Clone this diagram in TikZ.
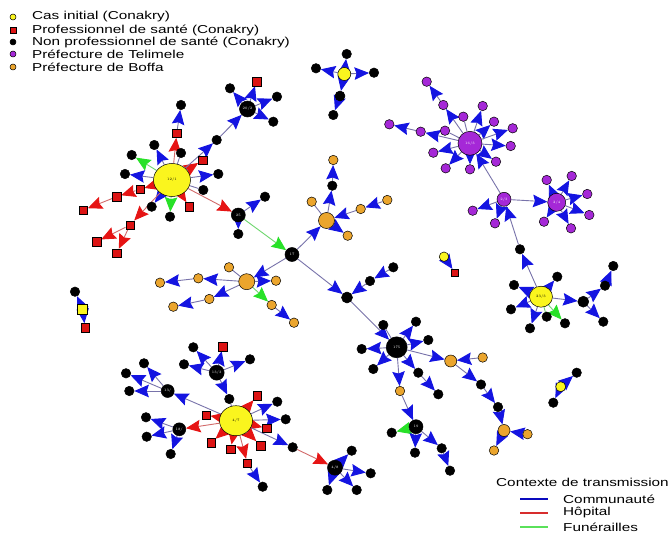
\documentclass[tikz,border=0pt]{standalone}
\usepackage{fontspec}
\setsansfont{Liberation Sans}
\usetikzlibrary{arrows.meta,shapes.geometric}
\pgfdeclarelayer{bg}
\pgfsetlayers{bg,main}
\definecolor{lineb}{RGB}{120,115,170}
\definecolor{liner}{RGB}{210,105,105}
\definecolor{lineg}{RGB}{110,215,110}
\definecolor{tipb}{RGB}{20,20,225}
\definecolor{tipr}{RGB}{230,20,20}
\definecolor{tipg}{RGB}{40,225,40}
\definecolor{pur}{RGB}{165,40,215}
\definecolor{org}{RGB}{235,165,45}
\definecolor{yel}{RGB}{250,245,30}
\definecolor{sqred}{RGB}{220,20,20}
\definecolor{legb}{RGB}{10,10,190}
\definecolor{legr}{RGB}{215,45,45}
\definecolor{legg}{RGB}{90,225,90}
\newcommand{\legtxt}[1]{\scalebox{1.33}[1]{#1}}
\newenvironment{edgelayer}{\begin{pgfonlayer}{bg}}{\end{pgfonlayer}}
\tikzset{
  nd/.style={circle, draw=black, line width=0.5pt, inner sep=0pt, minimum size=9.5pt},
  kdot/.style={nd, fill=black},
  pdot/.style={nd, fill=pur},
  odot/.style={nd, fill=org},
  ydot/.style={nd, fill=yel},
  rsq/.style={rectangle, draw=black, line width=0.5pt, fill=sqred, inner sep=0pt, minimum size=8.5pt},
  yell/.style={ellipse, draw=black, line width=0.5pt, fill=yel, inner sep=0pt},
  lab/.style={font=\fontsize{3.5}{4}\selectfont, text=white},
  labk/.style={font=\fontsize{3.5}{4}\selectfont, text=black},
  eblue/.style={draw=lineb, line width=0.9pt, -{Stealth[length=14.5pt,width=12.5pt,inset=2pt,color=tipb]}},
  ered/.style={draw=liner, line width=0.9pt, -{Stealth[length=14.5pt,width=12.5pt,inset=2pt,color=tipr]}},
  egreen/.style={draw=lineg, line width=0.9pt, -{Stealth[length=14.5pt,width=12.5pt,inset=2pt,color=tipg]}},
  eplain/.style={draw=lineb, line width=0.9pt},
  legtext/.style={anchor=west, inner sep=0pt, font=\sffamily\fontsize{11.5}{13}\selectfont},
  legline/.style={line width=1.6pt},
}
\begin{document}
\begin{tikzpicture}[x=1pt,y=-1pt]
\useasboundingbox (0,0) rectangle (670,535);
\begin{edgelayer}
\fill[white] (0,0) rectangle (670,535);
\end{edgelayer}

% ---------- top-left legend
\node[ydot, minimum size=6pt] (lm1) at (13,17) {};
\node[rsq, minimum size=6pt] (lm2) at (13,30) {};
\node[kdot, minimum size=6pt] (lm3) at (13,42) {};
\node[pdot, minimum size=6pt] (lm4) at (13,54) {};
\node[odot, minimum size=6pt] (lm5) at (13,67) {};
\node[legtext] (lt1) at (32,17) {\legtxt{Cas initial (Conakry)}};
\node[legtext] (lt2) at (32,30) {\legtxt{Professionnel de santé (Conakry)}};
\node[legtext] (lt3) at (32,42) {\legtxt{Non professionnel de santé (Conakry)}};
\node[legtext] (lt4) at (32,54) {\legtxt{Préfecture de Telimele}};
\node[legtext] (lt5) at (32,67) {\legtxt{Préfecture de Boffa}};

% ---------- bottom-right legend
\node[legtext] (lc0) at (496,482) {\legtxt{Contexte de transmission}};
\coordinate (lb1a) at (520,499); \coordinate (lb1b) at (548,499);
\coordinate (lb2a) at (520,513); \coordinate (lb2b) at (548,513);
\coordinate (lb3a) at (520,527); \coordinate (lb3b) at (548,527);
\draw[legline, legb] (lb1a) -- (lb1b);
\draw[legline, legr] (lb2a) -- (lb2b);
\draw[legline, legg] (lb3a) -- (lb3b);
\node[legtext] (lc1) at (563,499) {\legtxt{Communauté}};
\node[legtext] (lc2) at (563,513) {\legtxt{Hôpital}};
\node[legtext] (lc3) at (563,527) {\legtxt{Funérailles}};

% ---------- cluster 12/1
\node[yell, minimum width=37pt, minimum height=33pt] (A) at (172,180) {};
\node[labk] (Alab) at (A) {12/1};
\node[rsq] (a1) at (176.7,133.3) {};
\node[kdot] (a2) at (181,105) {};
\node[kdot] (a3) at (154.3,145) {};
\node[kdot] (a4) at (131.7,155) {};
\node[kdot] (a5) at (181,153) {};
\node[rsq] (a6) at (202.7,160) {};
\node[kdot] (a7) at (216.7,140) {};
\node[kdot] (a8) at (218.3,174) {};
\node[kdot] (a9) at (203.3,190) {};
\node[rsq] (a10) at (189.3,206.7) {};
\node[kdot] (a11) at (170,216.7) {};
\node[kdot] (a12) at (151.7,206.7) {};
\node[kdot] (a13) at (125,174) {};
\node[rsq] (a14) at (140,189.3) {};
\node[rsq] (a15) at (116.7,196.7) {};
\node[rsq] (a16) at (83.3,210) {};
\node[rsq] (a17) at (130,225) {};
\node[rsq] (a18) at (96.7,241.7) {};
\node[rsq] (a19) at (116.7,253.3) {};
\node[kdot, minimum size=16pt] (B) at (247.5,109) {};
\node[lab] (Blab) at (B) {20/2};
\node[rsq] (b1) at (256.5,81.7) {};
\node[kdot] (b2) at (230,88.3) {};
\node[kdot] (b3) at (277,96.7) {};
\node[kdot] (b4) at (273.3,121.7) {};

\begin{edgelayer}
\draw[ered] (A) -- (a1);
\draw[eblue] (a1) -- (a2);
\draw[eblue] (A) -- (a3);
\draw[egreen] (A) -- (a4);
\draw[eplain] (A) -- (a5);
\draw[ered] (A) -- (a6);
\draw[eblue] (A) -- (a7);
\draw[eblue] (a7) -- (B);
\draw[eblue] (B) -- (b1);
\draw[eblue] (B) -- (b2);
\draw[eblue] (B) -- (b3);
\draw[eblue] (B) -- (b4);
\draw[eblue] (A) -- (a8);
\draw[eplain] (A) -- (a9);
\draw[ered] (A) -- (a10);
\draw[egreen] (A) -- (a11);
\draw[eblue] (A) -- (a12);
\draw[eblue] (A) -- (a13);
\draw[ered] (A) -- (a14);
\draw[ered] (a14) -- (a15);
\draw[ered] (a15) -- (a16);
\draw[ered] (A) -- (a17);
\draw[ered] (a17) -- (a18);
\draw[ered] (a17) -- (a19);
\end{edgelayer}

% ---------- 25 and 17
\node[kdot, minimum size=14pt] (C) at (238.3,215) {};
\node[lab] (Clab) at (C) {25};
\node[kdot] (c1) at (265,196.7) {};
\node[kdot] (c2) at (238.3,234) {};
\node[kdot, minimum size=14pt] (D) at (292,254.5) {};
\node[lab] (Dlab) at (D) {17};
\begin{edgelayer}
\draw[ered] (A) -- (C);
\draw[eblue] (C) -- (c1);
\draw[eblue] (C) -- (c2);
\draw[egreen] (C) -- (D);
\end{edgelayer}

% ---------- Boffa (upper)
\node[odot, minimum size=16pt] (E) at (326.5,220.5) {};
\node[kdot] (e1) at (332.3,185.7) {};
\node[odot] (e2) at (333.3,160) {};
\node[odot] (e3) at (311.7,201.7) {};
\node[odot] (e4) at (360.7,209) {};
\node[odot] (e5) at (387.3,200) {};
\node[odot] (e6) at (347.7,235.7) {};
\begin{edgelayer}
\draw[eblue] (D) -- (E);
\draw[eblue] (E) -- (e1);
\draw[eblue] (e1) -- (e2);
\draw[eplain] (E) -- (e3);
\draw[eblue] (e4) -- (E);
\draw[eblue] (e5) -- (e4);
\draw[eblue] (E) -- (e6);
\end{edgelayer}

% ---------- Boffa (left)
\node[odot, minimum size=16pt] (F) at (246.7,281.7) {};
\node[odot] (f1) at (229,267.3) {};
\node[odot] (f2) at (276,280.7) {};
\node[odot] (f3) at (198.3,278.3) {};
\node[odot] (f4) at (160,282.7) {};
\node[odot] (f5) at (209.3,299) {};
\node[odot] (f6) at (173.3,306.7) {};
\node[odot] (f7) at (271.7,305) {};
\node[odot] (f8) at (294,322.7) {};
\begin{edgelayer}
\draw[eblue] (D) -- (F);
\draw[eplain] (F) -- (f1);
\draw[eblue] (F) -- (f2);
\draw[eblue] (F) -- (f3);
\draw[eblue] (f3) -- (f4);
\draw[eblue] (F) -- (f5);
\draw[eblue] (f5) -- (f6);
\draw[egreen] (F) -- (f7);
\draw[eblue] (f7) -- (f8);
\end{edgelayer}

% ---------- 175 branch
\node[kdot, minimum size=11pt] (G) at (347,297.5) {};
\node[kdot] (g1) at (370,281) {};
\node[kdot] (g2) at (393.3,267.3) {};
\node[kdot, minimum size=21pt] (H) at (396.7,347.3) {};
\node[lab] (Hlab) at (H) {175};
\node[kdot] (h1) at (383.3,325) {};
\node[kdot] (h2) at (416,321.7) {};
\node[kdot] (h3) at (428.3,340) {};
\node[kdot] (h4) at (361.7,349) {};
\node[kdot] (h5) at (373.3,369) {};
\node[kdot] (h6) at (418.3,372.7) {};
\node[kdot] (h7) at (438.3,394.3) {};
\node[odot] (h8) at (400,391) {};
\node[kdot, minimum size=14pt] (I) at (416,426.7) {};
\node[lab] (Ilab) at (I) {19};
\node[kdot] (i1) at (391.7,432.7) {};
\node[kdot] (i2) at (415,452.7) {};
\node[kdot] (i3) at (441.7,448.3) {};
\node[kdot] (i4) at (450,470.7) {};
\begin{edgelayer}
\draw[eblue] (D) -- (G);
\draw[eblue] (g1) -- (G);
\draw[eblue] (g2) -- (g1);
\draw[eblue] (G) -- (H);
\draw[eplain] (H) -- (h1);
\draw[eblue] (H) -- (h2);
\draw[eblue] (H) -- (h3);
\draw[eblue] (H) -- (h4);
\draw[eblue] (H) -- (h5);
\draw[eblue] (H) -- (h6);
\draw[eblue] (h6) -- (h7);
\draw[eblue] (H) -- (h8);
\draw[eblue] (h8) -- (I);
\draw[egreen] (I) -- (i1);
\draw[eblue] (I) -- (i2);
\draw[eblue] (I) -- (i3);
\draw[eblue] (i3) -- (i4);
\end{edgelayer}

\node[odot, minimum size=12pt] (J) at (450.7,361) {};
\node[odot] (j1) at (482.7,357.5) {};
\node[kdot] (j2) at (481,384.5) {};
\node[kdot] (j3) at (498,407) {};
\node[odot, minimum size=12pt] (K) at (504,430.5) {};
\node[odot] (k1) at (527.5,434.2) {};
\node[odot] (k2) at (494,450.5) {};
\begin{edgelayer}
\draw[eblue] (H) -- (J);
\draw[eblue] (j1) -- (J);
\draw[eblue] (J) -- (j2);
\draw[eblue] (j2) -- (j3);
\draw[eblue] (j3) -- (K);
\draw[eblue] (k1) -- (K);
\draw[eblue] (K) -- (k2);
\end{edgelayer}

\node[ydot, minimum size=10pt] (L) at (560.7,386.7) {};
\node[kdot] (l1) at (576.7,372.7) {};
\node[kdot] (l2) at (553.3,402.7) {};
\begin{edgelayer}
\draw[eblue] (L) -- (l1);
\draw[eblue] (L) -- (l2);
\end{edgelayer}

% ---------- Telimele
\node[pdot, minimum size=24pt] (M) at (470,143.3) {};
\node[lab] (Mlab) at (M) {16/3};
\node[pdot] (m1) at (443.3,105) {};
\node[pdot] (m2) at (426.7,81.7) {};
\node[pdot] (m3) at (463.3,116.7) {};
\node[pdot] (m4) at (482.7,106) {};
\node[pdot] (m5) at (494,121.7) {};
\node[pdot] (m6) at (512.7,128.3) {};
\node[pdot] (m7) at (510.7,146) {};
\node[pdot] (m8) at (496,161.7) {};
\node[pdot] (m9) at (470,169.3) {};
\node[pdot] (m10) at (445.7,168.3) {};
\node[pdot] (m11) at (433.3,152.7) {};
\node[pdot] (m12) at (445,130.7) {};
\node[pdot] (m13) at (420.7,131.7) {};
\node[pdot] (m14) at (389.3,124.3) {};
\begin{edgelayer}
\draw[eblue] (M) -- (m1);
\draw[eblue] (m1) -- (m2);
\draw[eplain] (M) -- (m3);
\draw[eblue] (M) -- (m4);
\draw[eblue] (M) -- (m5);
\draw[eblue] (M) -- (m6);
\draw[eblue] (M) -- (m7);
\draw[eblue] (M) -- (m8);
\draw[eblue] (M) -- (m9);
\draw[eblue] (M) -- (m10);
\draw[eblue] (M) -- (m11);
\draw[eplain] (M) -- (m12);
\draw[eblue] (M) -- (m13);
\draw[eblue] (m13) -- (m14);
\end{edgelayer}

\node[pdot, minimum size=14pt] (N) at (504,199.3) {};
\node[lab] (Nlab) at (N) {2/3};
\node[pdot] (n1) at (472.7,210.7) {};
\node[pdot] (n2) at (495,223.3) {};
\node[pdot, minimum size=18pt] (O) at (556.7,202.3) {};
\node[lab] (Olab) at (O) {2/4};
\node[pdot] (o1) at (546.7,180) {};
\node[pdot] (o2) at (571.7,176) {};
\node[pdot] (o3) at (587.3,194) {};
\node[pdot] (o4) at (589.3,215) {};
\node[pdot] (o5) at (571,228.3) {};
\node[pdot] (o6) at (544,221.7) {};
\begin{edgelayer}
\draw[eblue] (N) -- (M);
\draw[eblue] (N) -- (n1);
\draw[eblue] (N) -- (n2);
\draw[eblue] (N) -- (O);
\draw[eblue] (O) -- (o1);
\draw[eblue] (O) -- (o2);
\draw[eblue] (O) -- (o3);
\draw[eblue] (O) -- (o4);
\draw[eblue] (O) -- (o5);
\draw[eblue] (O) -- (o6);
\end{edgelayer}

% ---------- 23/3
\node[kdot] (Q) at (520,249.3) {};
\node[yell, minimum width=23pt, minimum height=21pt] (P) at (541,296.7) {};
\node[labk] (Plab) at (P) {23/3};
\node[kdot] (p1) at (514,285) {};
\node[kdot] (p2) at (557.3,276.7) {};
\node[kdot] (p3) at (511,309.3) {};
\node[kdot] (p4) at (530,328.3) {};
\node[kdot] (p5) at (546.7,316.7) {};
\node[kdot] (p6) at (565,323.3) {};
\node[kdot, minimum size=11pt] (p7) at (583.3,301.7) {};
\node[kdot] (p8) at (605,285.7) {};
\node[kdot] (p9) at (613.3,266) {};
\node[kdot] (p10) at (603.3,321.7) {};
\begin{edgelayer}
\draw[eblue] (Q) -- (N);
\draw[eblue] (P) -- (Q);
\draw[eblue] (P) -- (p1);
\draw[eblue] (P) -- (p2);
\draw[eblue] (P) -- (p3);
\draw[eblue] (P) -- (p4);
\draw[draw=lineg, line width=0.9pt] (P) -- (p5);
\draw[egreen] (P) -- (p6);
\draw[eblue] (P) -- (p7);
\draw[eblue] (p7) -- (p8);
\draw[eblue] (p8) -- (p9);
\draw[eblue] (p7) -- (p10);
\end{edgelayer}

% ---------- top yellow star
\node[ydot, minimum size=13pt] (T) at (344.3,74) {};
\node[kdot] (t1) at (346.7,54) {};
\node[kdot] (t2) at (316,68.3) {};
\node[kdot] (t3) at (374,72.7) {};
\node[kdot, minimum size=10pt] (t4) at (340,96) {};
\node[kdot] (t5) at (333.3,115) {};
\begin{edgelayer}
\draw[eblue] (T) -- (t1);
\draw[eblue] (T) -- (t2);
\draw[eblue] (T) -- (t3);
\draw[eblue] (T) -- (t4);
\draw[eblue] (t4) -- (t5);
\end{edgelayer}

% ---------- small pairs
\node[ydot] (U) at (444,256.7) {};
\node[rsq, minimum size=7pt] (u1) at (455,272.7) {};
\node[rectangle, draw=black, line width=0.5pt, fill=yel, inner sep=0pt, minimum size=10pt] (V) at (82.7,309) {};
\node[kdot] (v1) at (75,291.7) {};
\node[rsq] (v2) at (85,327.7) {};
\begin{edgelayer}
\draw[eblue] (U) -- (u1);
\draw[eblue] (V) -- (v1);
\draw[eblue] (V) -- (v2);
\end{edgelayer}

% ---------- cluster 4/7
\node[yell, minimum width=33pt, minimum height=30pt] (W) at (236,420.7) {};
\node[labk] (Wlab) at (W) {4/7};
\node[rsq] (w1) at (257.3,395.7) {};
\node[kdot] (w2) at (277.3,401.7) {};
\node[kdot] (w3) at (285.7,419.3) {};
\node[rsq] (w4) at (266.7,428.3) {};
\node[rsq] (w5) at (260.7,445.7) {};
\node[rsq] (w6) at (247.3,463.3) {};
\node[kdot] (w7) at (262.7,486.7) {};
\node[rsq] (w8) at (230.7,449) {};
\node[rsq] (w9) at (211,442.7) {};
\node[rsq] (w10) at (206,415) {};
\node[kdot] (w11) at (229.3,399) {};
\node[kdot] (w12) at (292.7,447.3) {};
\begin{edgelayer}
\draw[ered] (W) -- (w1);
\draw[eblue] (W) -- (w2);
\draw[eblue] (W) -- (w3);
\draw[ered] (W) -- (w4);
\draw[ered] (W) -- (w5);
\draw[ered] (W) -- (w6);
\draw[eblue] (w6) -- (w7);
\draw[ered] (W) -- (w8);
\draw[ered] (W) -- (w9);
\draw[ered] (W) -- (w10);
\draw[eblue] (W) -- (w12);
\end{edgelayer}

\node[kdot, minimum size=15pt] (X) at (216.7,372.7) {};
\node[lab] (Xlab) at (X) {13/3};
\node[rsq] (x1) at (222.7,346.7) {};
\node[kdot] (x2) at (193.3,347.3) {};
\node[kdot] (x3) at (184,364.3) {};
\node[kdot] (x4) at (250,359.3) {};
\begin{edgelayer}
\draw[eblue] (X) -- (w11);
\draw[eplain] (w11) -- (W);
\draw[eblue] (X) -- (x1);
\draw[eblue] (X) -- (x2);
\draw[eblue] (X) -- (x3);
\draw[eblue] (X) -- (x4);
\end{edgelayer}

\node[kdot, minimum size=13pt] (Y) at (167.7,391) {};
\node[lab] (Ylab) at (Y) {13/};
\node[kdot] (y1) at (144,363.3) {};
\node[kdot] (y2) at (126,373.3) {};
\node[kdot] (y3) at (129.3,391) {};
\begin{edgelayer}
\draw[eblue] (W) -- (Y);
\draw[eblue] (Y) -- (y1);
\draw[eblue] (Y) -- (y2);
\draw[eblue] (Y) -- (y3);
\end{edgelayer}

\node[kdot, minimum size=13pt] (Z) at (179.3,429.3) {};
\node[lab] (Zlab) at (Z) {18/};
\node[kdot] (z1) at (146,417.3) {};
\node[kdot] (z2) at (146.7,436.7) {};
\node[kdot] (z3) at (170.7,454) {};
\begin{edgelayer}
\draw[ered] (W) -- (Z);
\draw[eblue] (Z) -- (z1);
\draw[eblue] (Z) -- (z2);
\draw[eblue] (Z) -- (z3);
\end{edgelayer}

\node[kdot, minimum size=15pt] (R) at (335,467.7) {};
\node[lab] (Rlab) at (R) {4/8};
\node[kdot] (r1) at (351.7,450.7) {};
\node[kdot] (r2) at (370.7,473.3) {};
\node[kdot] (r3) at (356.7,490) {};
\node[kdot] (r4) at (327.3,490) {};
\begin{edgelayer}
\draw[ered] (w12) -- (R);
\draw[eblue] (R) -- (r1);
\draw[eblue] (R) -- (r2);
\draw[eblue] (R) -- (r3);
\draw[eblue] (R) -- (r4);
\end{edgelayer}
\end{tikzpicture}
\end{document}
